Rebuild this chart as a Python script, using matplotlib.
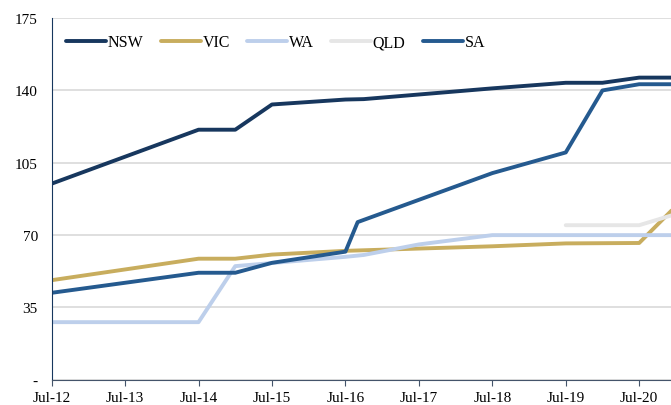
import matplotlib
matplotlib.use("Agg")
import matplotlib.pyplot as plt

# x is months since Jul-12
nsw_x = [0, 24, 30, 36, 48, 51, 72, 84, 90, 96, 102]
nsw_y = [94.9, 121, 121, 133.2, 135.6, 135.8, 141, 143.7, 143.7, 146.2, 146.2]

vic_x = [0, 24, 30, 36, 48, 72, 84, 96, 102]
vic_y = [48.2, 58.6, 58.6, 60.6, 62.4, 64.6, 66.0, 66.2, 84]

wa_x = [0, 24, 30, 48, 51, 60, 72, 102]
wa_y = [27.9, 27.9, 55.0, 59.5, 60.4, 65.5, 70.0, 70.0]

qld_x = [84, 96, 102]
qld_y = [74.8, 74.8, 80.2]

sa_x = [0, 24, 30, 36, 48, 50, 72, 84, 90, 96, 102]
sa_y = [42.1, 51.8, 51.8, 56.6, 62.0, 76.3, 100, 110, 140, 143, 143]

tick_pos = [0, 12, 24, 36, 48, 60, 72, 84, 96]
tick_lab = ["Jul-12", "Jul-13", "Jul-14", "Jul-15", "Jul-16",
            "Jul-17", "Jul-18", "Jul-19", "Jul-20"]
ytick_pos = [0, 35, 70, 105, 140, 175]
ytick_lab = ["-", "35", "70", "105", "140", "175"]

plt.rcParams["font.family"] = ["Liberation Serif", "DejaVu Serif"]

fig = plt.figure(figsize=(6.71, 4.06), dpi=100)
ax = fig.add_axes([0.077, 0.062, 0.923, 0.891])

lw = 2.8
ax.plot(nsw_x, nsw_y, color="#17375E", lw=lw, label="NSW", solid_capstyle="butt")
ax.plot(vic_x, vic_y, color="#C8AD5E", lw=lw, label="VIC", solid_capstyle="butt")
ax.plot(wa_x, wa_y, color="#BDCFEB", lw=lw, label="WA", solid_capstyle="butt")
ax.plot(qld_x, qld_y, color="#E6E6E6", lw=lw, label="QLD", solid_capstyle="round")
ax.plot(sa_x, sa_y, color="#255A8F", lw=lw, label="SA", solid_capstyle="butt")

ax.set_xlim(0, 101.2)
ax.set_ylim(0, 175)
ax.set_xticks(tick_pos)
ax.set_xticklabels(tick_lab, fontsize=11)
ax.set_yticks(ytick_pos)
ax.set_yticklabels(ytick_lab, fontsize=11)

ax.grid(axis="y", color="#D9D9D9", lw=1.2)
ax.set_axisbelow(True)
for s in ["top", "right"]:
    ax.spines[s].set_visible(False)
ax.spines["left"].set_color("#17375E")
ax.spines["bottom"].set_color("#44546A")
ax.tick_params(axis="y", length=0, pad=10)
ax.tick_params(axis="x", length=4, color="#44546A", pad=4)

leg = ax.legend(loc="upper left", ncol=5, frameon=False, fontsize=11.5,
                handlelength=2.5, handletextpad=0.1, columnspacing=1.1,
                bbox_to_anchor=(0.0, 0.995))
for h in leg.get_lines():
    h.set_solid_capstyle("round")

fig.savefig("out.png", dpi=100)
